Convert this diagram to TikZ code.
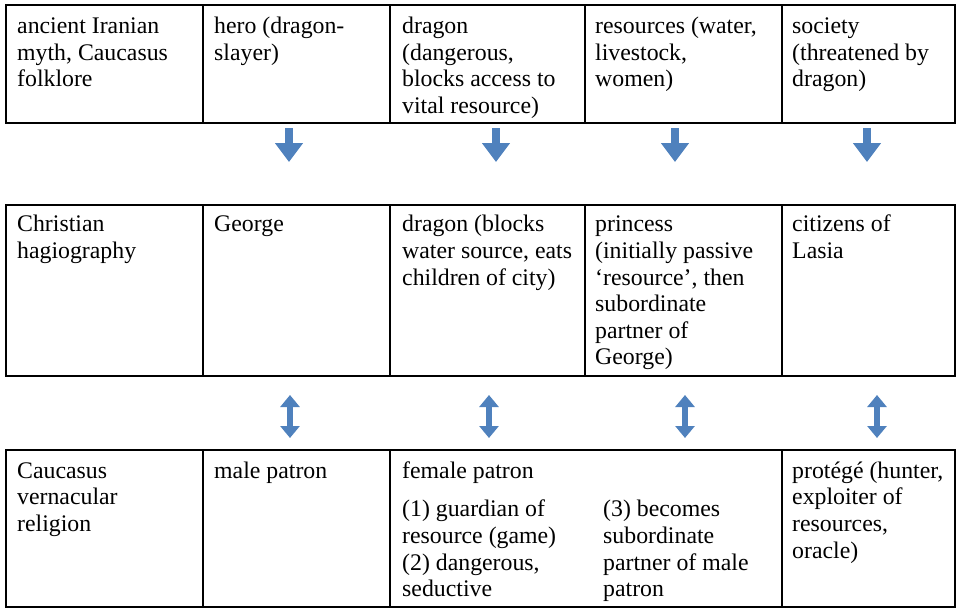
\documentclass[tikz,border=0pt]{standalone}
\usepackage{fontspec}
\setmainfont{Liberation Serif}
\usetikzlibrary{arrows.meta}
\definecolor{arrowblue}{RGB}{79,129,189}
\begin{document}
\begin{tikzpicture}[x=1pt,y=-1pt,
  gridline/.style={line width=2pt, black},
  celltext/.style={anchor=north west, inner sep=0pt, align=left, font=\fontsize{23.8}{26.6}\selectfont},
  downarrow/.style={arrowblue, line width=8pt, -{Triangle[width=27pt,length=19pt]}},
  bothways/.style={arrowblue, line width=6pt, {Triangle[width=19pt,length=12pt]}-{Triangle[width=19pt,length=12pt]}}]
\useasboundingbox (0,0) rectangle (956,608);
% row 1
\draw[gridline] (6,5) rectangle (954.5,123);
\draw[gridline] (203.3,5) -- (203.3,123) (390.2,5) -- (390.2,123) (584.5,5) -- (584.5,123) (781.5,5) -- (781.5,123);
% row 2
\draw[gridline] (6,205) rectangle (954.5,376);
\draw[gridline] (203.3,205) -- (203.3,376) (390.2,205) -- (390.2,376) (584.5,205) -- (584.5,376) (781.5,205) -- (781.5,376);
% row 3
\draw[gridline] (6,450) rectangle (954.5,607);
\draw[gridline] (203.3,450) -- (203.3,607) (390.2,450) -- (390.2,607) (781.5,450) -- (781.5,607);
% texts row 1
\node[celltext] (r1c1) at (17,14.7) {\strut ancient Iranian\\myth, Caucasus\\folklore};
\node[celltext] (r1c2) at (214,14.7) {\strut hero (dragon-\\slayer)};
\node[celltext] (r1c3) at (402,14.7) {\strut dragon\\(dangerous,\\blocks access to\\vital resource)};
\node[celltext] (r1c4) at (595,14.7) {\strut resources (water,\\livestock,\\women)};
\node[celltext] (r1c5) at (792,14.7) {\strut society\\(threatened by\\dragon)};
% texts row 2
\node[celltext] (r2c1) at (17,213.1) {\strut Christian\\hagiography};
\node[celltext] (r2c2) at (214,213.1) {\strut George};
\node[celltext] (r2c3) at (402,213.1) {\strut dragon (blocks\\water source, eats\\children of city)};
\node[celltext] (r2c4) at (595,213.1) {\strut princess\\(initially passive\\‘resource’, then\\subordinate\\partner of\\George)};
\node[celltext] (r2c5) at (792,213.1) {\strut citizens of\\Lasia};
% texts row 3
\node[celltext] (r3c1) at (17,459.4) {\strut Caucasus\\vernacular\\religion};
\node[celltext] (r3c2) at (214,459.4) {\strut male patron};
\node[celltext] (r3c3) at (402,459.4) {\strut female patron};
\node[celltext] (r3c3a) at (402,498.1) {\strut (1) guardian of\\resource (game)\\(2) dangerous,\\seductive};
\node[celltext] (r3c3b) at (603,498.1) {\strut (3) becomes\\subordinate\\partner of male\\patron};
\node[celltext] (r3c5) at (792,459.4) {\strut protégé (hunter,\\exploiter of\\resources,\\oracle)};
% arrows between rows 1 and 2
\coordinate (d1s) at (289,128); \coordinate (d1e) at (289,162);
\coordinate (d2s) at (496,128); \coordinate (d2e) at (496,162);
\coordinate (d3s) at (675,128); \coordinate (d3e) at (675,162);
\coordinate (d4s) at (867,128); \coordinate (d4e) at (867,162);
\draw[downarrow] (d1s) -- (d1e);
\draw[downarrow] (d2s) -- (d2e);
\draw[downarrow] (d3s) -- (d3e);
\draw[downarrow] (d4s) -- (d4e);
% arrows between rows 2 and 3
\coordinate (b1s) at (290,395); \coordinate (b1e) at (290,438);
\coordinate (b2s) at (489,395); \coordinate (b2e) at (489,438);
\coordinate (b3s) at (685,395); \coordinate (b3e) at (685,438);
\coordinate (b4s) at (877,395); \coordinate (b4e) at (877,438);
\draw[bothways] (b1s) -- (b1e);
\draw[bothways] (b2s) -- (b2e);
\draw[bothways] (b3s) -- (b3e);
\draw[bothways] (b4s) -- (b4e);
\end{tikzpicture}
\end{document}
